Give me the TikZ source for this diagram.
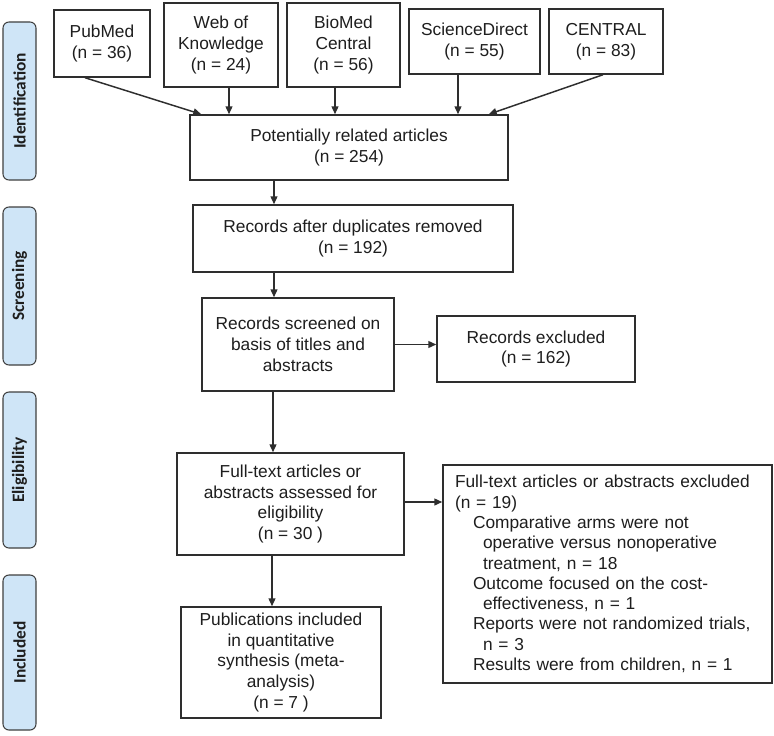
\documentclass[tikz,border=0pt]{standalone}
\usepackage{fontspec}
\setmainfont{Liberation Sans}
\newfontfamily\phasefont{Carlito}
\usetikzlibrary{arrows.meta,calc}
\definecolor{phasefill}{HTML}{CFE5F7}
\definecolor{edgegray}{HTML}{2E2E2E}
\definecolor{txtgray}{HTML}{1E1E1E}
\begin{document}
\begin{tikzpicture}[x=0.75pt,y=-0.75pt,
  box/.style={draw=edgegray, line width=1.1pt, align=center, inner sep=0pt,
    font=\fontsize{13}{15.6}\selectfont, text=txtgray},
  arr/.style={draw=edgegray, line width=1.1pt, -{Triangle[length=6pt,width=5.2pt]}},
  phase/.style={draw=black!75, line width=0.8pt, fill=phasefill, rounded corners=4.5pt,
    rotate=90, inner sep=0pt, minimum height={33*0.75pt},
    font=\phasefont\bfseries\fontsize{13}{15}\selectfont, text=txtgray}]
\fill[white] (0,0) rectangle (774,735);
\useasboundingbox (0,0) rectangle (774,735);

% phase labels
\node[phase, minimum width={158*0.75pt}] (idp) at (19.5,101) {Identification};
\node[phase, minimum width={158*0.75pt}] (scp) at (19.5,286) {Screening};
\node[phase, minimum width={156*0.75pt}] (elp) at (19.5,470) {Eligibility};
\node[phase, minimum width={155*0.75pt}] (inp) at (19.5,652.5) {Included};

% sources
\node[box, minimum width={96*0.75pt}, minimum height={67*0.75pt}] (pub) at (102,43.5) {PubMed\\(n = 36)};
\node[box, minimum width={114*0.75pt}, minimum height={84*0.75pt}] (wok) at (221,45) {Web of\\Knowledge\\(n = 24)};
\node[box, minimum width={113*0.75pt}, minimum height={84*0.75pt}] (bmc) at (343.5,45) {BioMed\\Central\\(n = 56)};
\node[box, minimum width={131*0.75pt}, minimum height={65*0.75pt}] (sd) at (474.5,41.5) {ScienceDirect\\(n = 55)};
\node[box, minimum width={114*0.75pt}, minimum height={65*0.75pt}] (cen) at (606,41.5) {CENTRAL\\(n = 83)};

% main flow
\node[box, minimum width={318*0.75pt}, minimum height={65*0.75pt}] (pot) at (349,147.5) {Potentially related articles\\(n = 254)};
\node[box, minimum width={320*0.75pt}, minimum height={67*0.75pt}] (dup) at (353,238.5) {Records after duplicates removed\\(n = 192)};
\node[box, minimum width={192*0.75pt}, minimum height={93*0.75pt}] (scr) at (298,344.5) {Records screened on\\basis of titles and\\abstracts};
\node[box, minimum width={198*0.75pt}, minimum height={66*0.75pt}] (rex) at (536,349) {Records excluded\\(n = 162)};
\node[box, minimum width={227*0.75pt}, minimum height={102*0.75pt}] (ft) at (290.5,504) {Full-text articles or\\abstracts assessed for\\eligibility\\(n = 30 )};
\node[box, minimum width={200*0.75pt}, minimum height={111*0.75pt}] (pinc) at (281,662.5) {Publications included\\in quantitative\\synthesis (meta-\\analysis)\\(n = 7 )};
\node[box, align=left, text width={305*0.75pt}, inner xsep={12*0.75pt}, minimum height={218*0.75pt},
  font=\fontsize{13}{15.2}\selectfont] (fex) at (607.5,574)
  {Full-text articles or abstracts excluded\\
   (n = 19)\\
   \hspace*{13.5pt}Comparative arms were not\\
   \hspace*{21pt}operative versus nonoperative\\
   \hspace*{21pt}treatment, n = 18\\
   \hspace*{13.5pt}Outcome focused on the cost-\\
   \hspace*{21pt}effectiveness, n = 1\\
   \hspace*{13.5pt}Reports were not randomized trials,\\
   \hspace*{21pt}n = 3\\
   \hspace*{13.5pt}Results were from children, n = 1};

% connectors
\draw[arr] ([xshift=-12.75pt]pub.south) -- ([xshift=9pt]pot.north west);
\draw[arr] ([xshift=6pt]wok.south) -- ([xshift=6pt]wok.south |- pot.north);
\draw[arr] ([xshift=-6.375pt]bmc.south) -- ([xshift=-6.375pt]bmc.south |- pot.north);
\draw[arr] ([xshift=-12.375pt]sd.south) -- ([xshift=-12.375pt]sd.south |- pot.north);
\draw[arr] ([xshift=-2.25pt]cen.south) -- ([xshift=-15pt]pot.north east);

\coordinate (c1) at ([xshift=-56.25pt]pot.south);
\draw[arr] (c1) -- (c1 |- dup.north);
\draw[arr] (c1 |- dup.south) -- (c1 |- scr.north);
\draw[arr] ([xshift=-0.75pt]c1 |- scr.south) -- ([xshift=-0.75pt]c1 |- ft.north);
\draw[arr] ([xshift=-1.5pt]c1 |- ft.south) -- ([xshift=-1.5pt]c1 |- pinc.north);
\draw[arr] (scr.east) -- (scr.east -| rex.west);
\draw[arr] ([yshift=1.5pt]ft.east) -- ([yshift=1.5pt]ft.east -| fex.west);
\end{tikzpicture}
\end{document}
